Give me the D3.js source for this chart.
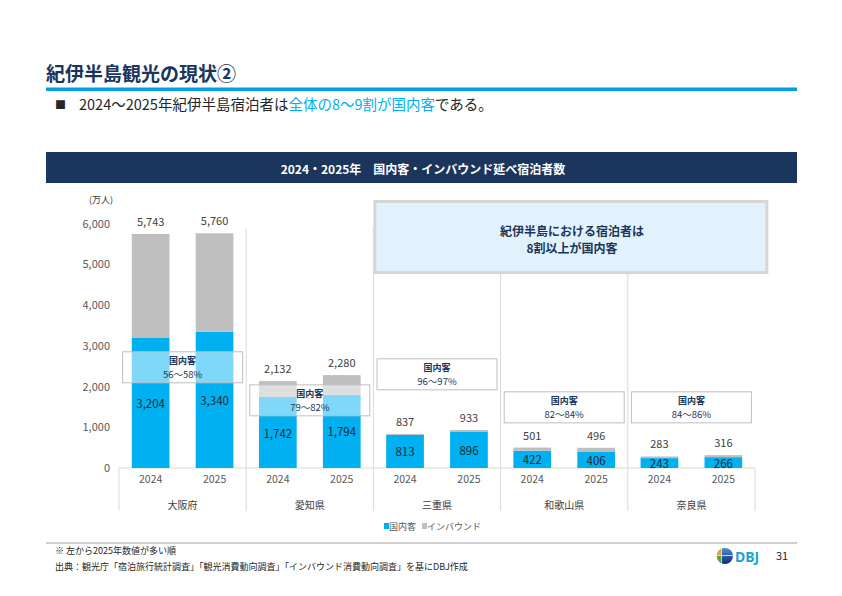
<!DOCTYPE html>
<html>
<head>
<meta charset="utf-8">
<script src="https://cdn.jsdelivr.net/npm/d3@7"></script>
<style>
  body { margin: 0; background: #fff; }
  svg { display: block; font-family: "Noto Sans CJK JP", "Noto Sans", sans-serif; }
</style>
</head>
<body>
<script>
// data (万人)
var prefectures = ["大阪府", "愛知県", "三重県", "和歌山県", "奈良県"];
var years = ["2024", "2025"];
var domestic = [[3204, 3340], [1742, 1794], [813, 896], [422, 406], [243, 266]];
var totals = [[5743, 5760], [2132, 2280], [837, 933], [501, 496], [283, 316]];
var shareLabels = ["56～58%", "79～82%", "96～97%", "82～84%", "84～86%"];
var yTicks = [0, 1000, 2000, 3000, 4000, 5000, 6000];

// where the share boxes sit (top edge, in 万人 on the y scale)
var shareBoxTop = [2852, 2041, 2680, 1869, 1869];

var navy = "#1b365d";
var blue = "#00b0f0";
var gray = "#bfbfbf";
var lineGray = "#d9d9d9";

var svg = d3.select("body").append("svg")
    .attr("width", 842)
    .attr("height", 596);

// ---- page header
svg.append("text")
    .attr("x", 46).attr("y", 81)
    .attr("font-size", 19).attr("font-weight", "bold")
    .attr("fill", navy)
    .text("紀伊半島観光の現状②");

svg.append("rect")
    .attr("x", 46).attr("y", 87.5)
    .attr("width", 751).attr("height", 3.5)
    .attr("fill", "#00a0e9");

svg.append("text")
    .attr("x", 55).attr("y", 109)
    .attr("font-size", 11).attr("fill", "#262626")
    .text("■");

var lead = svg.append("text")
    .attr("x", 79).attr("y", 110)
    .attr("font-size", 14.5).attr("fill", "#262626");
lead.append("tspan").text("2024～2025年紀伊半島宿泊者は");
lead.append("tspan").attr("fill", blue).text("全体の8～9割が国内客");
lead.append("tspan").text("である。");

// chart title bar
svg.append("rect")
    .attr("x", 46).attr("y", 152)
    .attr("width", 751).attr("height", 31)
    .attr("fill", navy);
svg.append("text")
    .attr("x", 423).attr("y", 168)
    .attr("dominant-baseline", "central")
    .attr("text-anchor", "middle")
    .attr("font-size", 12).attr("font-weight", "bold")
    .attr("fill", "#fff")
    .text("2024・2025年　国内客・インバウンド延べ宿泊者数");

// ---- scales
var xGroup = d3.scaleBand()
    .domain(prefectures)
    .range([119, 755])
    .padding(0);

var xYear = d3.scaleBand()
    .domain(years)
    .range([0, xGroup.bandwidth()])
    .paddingInner(0.41)
    .paddingOuter(0.2);

var y = d3.scaleLinear()
    .domain([0, 6000])
    .range([468, 223.5]);

// rows for stacking
var rows = [];
prefectures.forEach(function (p, i) {
    years.forEach(function (yr, j) {
        rows.push({
            pref: p,
            year: yr,
            domestic: domestic[i][j],
            inbound: totals[i][j] - domestic[i][j],
            total: totals[i][j]
        });
    });
});

var stack = d3.stack().keys(["domestic", "inbound"]);
var series = stack(rows);

function barX(d) {
    return xGroup(d.pref) + xYear(d.year);
}

// ---- y axis
svg.append("text")
    .attr("x", 89).attr("y", 203)
    .attr("font-size", 9).attr("fill", "#333")
    .text("(万人)");

var yAxis = svg.append("g")
    .attr("transform", "translate(119,0)")
    .call(d3.axisLeft(y).tickValues(yTicks).tickFormat(d3.format(",")).tickSize(0).tickPadding(9));
yAxis.select(".domain").remove();
yAxis.selectAll("text")
    .attr("font-family", "\"Noto Sans CJK JP\", sans-serif")
    .attr("font-size", 11)
    .attr("fill", "#595959");

// ---- separators and category axis frame
var bounds = prefectures.map(function (p) { return xGroup(p); }).concat([xGroup.range()[1]]);
svg.selectAll(".sep")
    .data(bounds)
    .enter().append("line")
    .attr("class", "sep")
    .attr("x1", function (d) { return d; })
    .attr("x2", function (d) { return d; })
    .attr("y1", function (d, i) { return (i === 0 || i === bounds.length - 1) ? y(0) : 228; })
    .attr("y2", 511)
    .attr("stroke", lineGray)
    .attr("stroke-width", 1);

svg.append("line")
    .attr("x1", 119).attr("x2", 755)
    .attr("y1", y(0)).attr("y2", y(0))
    .attr("stroke", lineGray)
    .attr("stroke-width", 1.2);

// callout box (covers the upper separators)
svg.append("rect")
    .attr("x", xGroup("三重県") + 1.5)
    .attr("y", y(6540))
    .attr("width", 392)
    .attr("height", y(4795) - y(6540))
    .attr("fill", "#e2f2fc")
    .attr("stroke", "#d6d6d6")
    .attr("stroke-width", 3);
svg.append("text")
    .attr("x", 572).attr("y", 230)
    .attr("dominant-baseline", "central")
    .attr("text-anchor", "middle")
    .attr("font-size", 12).attr("font-weight", "bold")
    .attr("fill", navy)
    .text("紀伊半島における宿泊者は");
svg.append("text")
    .attr("x", 572).attr("y", 247)
    .attr("dominant-baseline", "central")
    .attr("text-anchor", "middle")
    .attr("font-size", 12).attr("font-weight", "bold")
    .attr("fill", navy)
    .text("8割以上が国内客");

// ---- bars
var colors = { domestic: blue, inbound: gray };
svg.append("g")
    .selectAll("g")
    .data(series)
    .enter().append("g")
    .attr("fill", function (s) { return colors[s.key]; })
    .selectAll("rect")
    .data(function (s) { return s; })
    .enter().append("rect")
    .attr("x", function (d) { return barX(d.data); })
    .attr("y", function (d) { return y(d[1]); })
    .attr("width", xYear.bandwidth())
    .attr("height", function (d) { return y(d[0]) - y(d[1]); });

// share boxes, half-transparent over the bars
prefectures.forEach(function (p, i) {
    var bx = xGroup(p) + (xGroup.bandwidth() - 120) / 2;
    var by = y(shareBoxTop[i]);
    var g = svg.append("g");
    g.append("rect")
        .attr("x", bx).attr("y", by)
        .attr("width", 120).attr("height", 31)
        .attr("fill", "#fff")
        .attr("fill-opacity", 0.5)
        .attr("stroke", gray)
        .attr("stroke-width", 1);
    g.append("text")
        .attr("x", bx + 60).attr("y", by + 9)
        .attr("dominant-baseline", "central")
        .attr("text-anchor", "middle")
        .attr("font-size", 9).attr("font-weight", "bold")
        .attr("fill", navy)
        .text("国内客");
    g.append("text")
        .attr("x", bx + 60).attr("y", by + 22)
        .attr("dominant-baseline", "central")
        .attr("text-anchor", "middle")
        .attr("font-size", 9.5)
        .attr("fill", navy)
        .text(shareLabels[i]);
});

// value labels
var fmt = d3.format(",");
svg.append("g")
    .selectAll("text")
    .data(rows)
    .enter().append("text")
    .attr("x", function (d) { return barX(d) + xYear.bandwidth() / 2; })
    .attr("y", function (d) { return (y(0) + y(d.domestic)) / 2; })
    .attr("dominant-baseline", "central")
    .attr("text-anchor", "middle")
    .attr("font-size", 11.5)
    .attr("fill", "#1f2a36")
    .text(function (d) { return fmt(d.domestic); });

svg.append("g")
    .selectAll("text")
    .data(rows)
    .enter().append("text")
    .attr("x", function (d) { return barX(d) + xYear.bandwidth() / 2; })
    .attr("y", function (d) { return y(d.total) - 13; })
    .attr("dominant-baseline", "central")
    .attr("text-anchor", "middle")
    .attr("font-size", 11)
    .attr("fill", "#404040")
    .text(function (d) { return fmt(d.total); });

// ---- x axis: years inside each prefecture, then prefecture names
prefectures.forEach(function (p) {
    var ax = svg.append("g")
        .attr("transform", "translate(" + xGroup(p) + "," + y(0) + ")")
        .call(d3.axisBottom(xYear).tickSize(0).tickPadding(8));
    ax.select(".domain").remove();
    ax.selectAll("text")
        .attr("font-family", "\"Noto Sans CJK JP\", sans-serif")
        .attr("font-size", 10.5)
        .attr("fill", "#595959");
});

svg.append("g")
    .selectAll("text")
    .data(prefectures)
    .enter().append("text")
    .attr("x", function (d) { return xGroup(d) + xGroup.bandwidth() / 2; })
    .attr("y", 504)
    .attr("dominant-baseline", "central")
    .attr("text-anchor", "middle")
    .attr("font-size", 10)
    .attr("fill", "#404040")
    .text(function (d) { return d; });

// ---- legend
var legendItems = [
    { label: "国内客", color: blue, x: 384 },
    { label: "インバウンド", color: gray, x: 422 }
];
var lg = svg.append("g").selectAll("g")
    .data(legendItems)
    .enter().append("g")
    .attr("transform", function (d) { return "translate(" + d.x + ",526)"; });
lg.append("rect")
    .attr("x", 0).attr("y", -3)
    .attr("width", 5).attr("height", 6)
    .attr("fill", function (d) { return d.color; });
lg.append("text")
    .attr("x", 5)
    .attr("dominant-baseline", "central")
    .attr("font-size", 9)
    .attr("fill", "#595959")
    .text(function (d) { return d.label; });

// ---- footer
svg.append("line")
    .attr("x1", 46).attr("x2", 797)
    .attr("y1", 543).attr("y2", 543)
    .attr("stroke", gray)
    .attr("stroke-width", 1.5);

svg.append("text")
    .attr("x", 55).attr("y", 553.5)
    .attr("font-size", 9).attr("fill", "#262626")
    .text("※  左から2025年数値が多い順");
svg.append("text")
    .attr("x", 55).attr("y", 570)
    .attr("font-size", 9).attr("fill", "#262626")
    .text("出典：観光庁「宿泊旅行統計調査」「観光消費動向調査」「インバウンド消費動向調査」を基にDBJ作成");

// DBJ mark
var defs = svg.append("defs");
defs.append("clipPath").attr("id", "globe")
    .append("circle").attr("cx", 725).attr("cy", 556).attr("r", 8);
var grad = defs.append("linearGradient").attr("id", "globeBlue")
    .attr("x1", "0").attr("y1", "0").attr("x2", "0").attr("y2", "1");
grad.append("stop").attr("offset", "0%").attr("stop-color", "#4a90d9");
grad.append("stop").attr("offset", "100%").attr("stop-color", "#0d2a74");
var globe = svg.append("g").attr("clip-path", "url(#globe)");
globe.append("rect").attr("x", 717).attr("y", 548).attr("width", 16).attr("height", 16).attr("fill", "url(#globeBlue)");
globe.append("rect").attr("x", 717).attr("y", 548).attr("width", 4).attr("height", 7).attr("fill", "#f0a030");
globe.append("rect").attr("x", 717).attr("y", 556).attr("width", 4).attr("height", 8).attr("fill", "#5aa83c");
globe.append("line").attr("x1", 717).attr("x2", 733).attr("y1", 555.5).attr("y2", 555.5).attr("stroke", "#dff").attr("stroke-width", 0.8);
globe.append("line").attr("x1", 721.5).attr("x2", 721.5).attr("y1", 548).attr("y2", 564).attr("stroke", "#dff").attr("stroke-width", 0.8);
svg.append("text")
    .attr("x", 735).attr("y", 561.5)
    .attr("font-family", "\"Noto Sans\", sans-serif")
    .attr("font-size", 14).attr("font-weight", "bold")
    .attr("fill", "#1ea0d8")
    .text("DBJ");

svg.append("text")
    .attr("x", 776).attr("y", 560)
    .attr("font-size", 11).attr("fill", "#262626")
    .text("31");
</script>
</body>
</html>
